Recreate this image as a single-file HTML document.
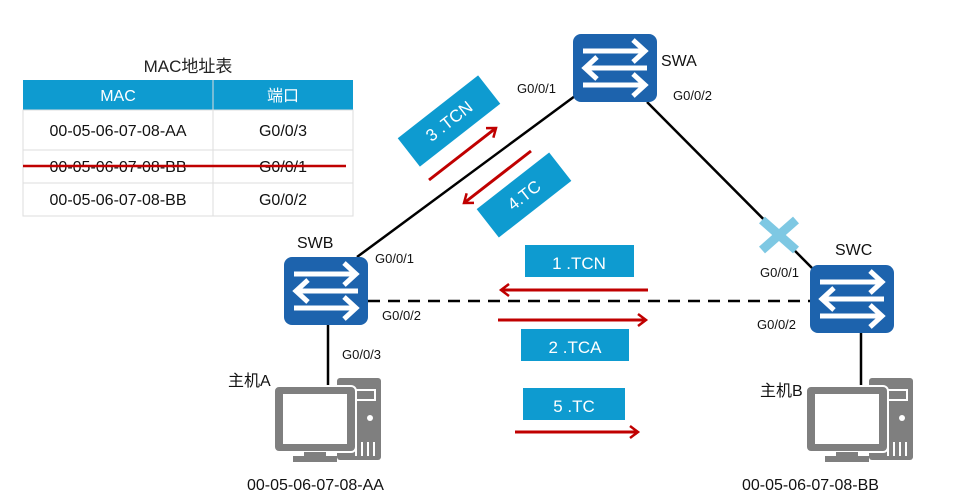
<!DOCTYPE html>
<html><head><meta charset="utf-8"><style>
html,body{margin:0;padding:0;background:#fff;}
svg{display:block;}
text{font-family:"Liberation Sans","Noto Sans CJK SC",sans-serif;}
</style></head><body>
<svg width="966" height="504" viewBox="0 0 966 504" xmlns="http://www.w3.org/2000/svg">
<defs>
<g id="sw">
<rect x="0" y="0" width="84" height="68" rx="8" fill="#1d63ad"/>
<g stroke="#fff" stroke-width="5" fill="none" stroke-linecap="butt">
<line x1="10" y1="17" x2="70" y2="17"/><polyline points="60,6 72,17 60,28"/>
<line x1="14" y1="34" x2="74" y2="34"/><polyline points="24,23 12,34 24,45"/>
<line x1="10" y1="51" x2="70" y2="51"/><polyline points="60,40 72,51 60,62"/>
</g>
</g>
<g id="pc">
<rect x="63" y="0" width="44" height="82" rx="3" fill="#7f7f7f"/>
<rect x="69" y="12" width="32" height="10" fill="none" stroke="#fff" stroke-width="2"/>
<circle cx="96" cy="40" r="3" fill="#fff"/>
<g stroke="#fff" stroke-width="2"><line x1="82" y1="64" x2="82" y2="78"/><line x1="88" y1="64" x2="88" y2="78"/><line x1="94" y1="64" x2="94" y2="78"/><line x1="100" y1="64" x2="100" y2="78"/></g>
<rect x="0" y="8" width="82" height="66" rx="5" fill="#7f7f7f" stroke="#fff" stroke-width="2"/>
<rect x="9" y="16" width="64" height="50" fill="#fff"/>
<rect x="30" y="74" width="22" height="4" fill="#7f7f7f"/>
<rect x="19" y="78" width="44" height="6" fill="#7f7f7f"/>
</g>
<marker id="ah" markerWidth="14" markerHeight="14" refX="10" refY="7" orient="auto" markerUnits="userSpaceOnUse">
<polyline points="2,1 10,7 2,13" fill="none" stroke="#c00000" stroke-width="2.5"/>
</marker>
</defs>

<!-- table -->
<text x="188" y="72" font-size="17" text-anchor="middle" fill="#222">MAC地址表</text>
<rect x="23" y="80" width="330" height="30" fill="#0e9bd0"/>
<line x1="213" y1="80" x2="213" y2="216" stroke="#ddd"/>
<rect x="23" y="110" width="330" height="106" fill="none" stroke="#ddd"/>
<line x1="23" y1="150" x2="353" y2="150" stroke="#ddd"/>
<line x1="23" y1="183" x2="353" y2="183" stroke="#ddd"/>
<text x="118" y="101" font-size="16" text-anchor="middle" fill="#fff">MAC</text>
<text x="283" y="101" font-size="16" text-anchor="middle" fill="#fff">端口</text>
<g font-size="16" fill="#111" text-anchor="middle">
<text x="118" y="136">00-05-06-07-08-AA</text><text x="283" y="136">G0/0/3</text>
<text x="118" y="172">00-05-06-07-08-BB</text><text x="283" y="172">G0/0/1</text>
<text x="118" y="205">00-05-06-07-08-BB</text><text x="283" y="205">G0/0/2</text>
</g>
<line x1="23" y1="166" x2="346" y2="166" stroke="#c00000" stroke-width="2.5"/>

<!-- links -->
<g stroke="#000" stroke-width="2.5">
<line x1="575" y1="96" x2="357" y2="257"/>
<line x1="647" y1="102" x2="812" y2="268"/>
<line x1="328" y1="325" x2="328" y2="388"/>
<line x1="861" y1="333" x2="861" y2="386"/>
<line x1="368" y1="301" x2="810" y2="301" stroke-dasharray="12,8"/>
</g>
<!-- X -->
<g stroke="#7ec8e3" stroke-width="9"><line x1="762" y1="220" x2="796" y2="250"/><line x1="796" y1="220" x2="762" y2="250"/></g>

<use href="#sw" x="573" y="34"/>
<use href="#sw" x="284" y="257"/>
<use href="#sw" x="810" y="265"/>
<use href="#pc" x="274" y="378"/>
<use href="#pc" x="806" y="378"/>

<g font-size="16" fill="#111">
<text x="661" y="66">SWA</text>
<text x="297" y="248">SWB</text>
<text x="835" y="255">SWC</text>
<text x="228" y="386">主机A</text>
<text x="760" y="396">主机B</text>
<text x="247" y="490">00-05-06-07-08-AA</text>
<text x="742" y="490">00-05-06-07-08-BB</text>
</g>
<g font-size="13" fill="#111">
<text x="517" y="93">G0/0/1</text>
<text x="673" y="100">G0/0/2</text>
<text x="375" y="263">G0/0/1</text>
<text x="382" y="320">G0/0/2</text>
<text x="342" y="359">G0/0/3</text>
<text x="760" y="277">G0/0/1</text>
<text x="757" y="329">G0/0/2</text>
</g>

<!-- labels -->
<g font-size="17" fill="#fff" text-anchor="middle">
<g transform="translate(449,121) rotate(-38)"><rect x="-51" y="-18" width="102" height="36" fill="#0e9bd0"/><text x="0" y="6">3 .TCN</text></g>
<g transform="translate(524,195) rotate(-38)"><rect x="-46" y="-18" width="92" height="36" fill="#0e9bd0"/><text x="0" y="6">4.TC</text></g>
<rect x="525" y="245" width="109" height="32" fill="#0e9bd0"/><text x="579" y="269">1 .TCN</text>
<rect x="521" y="329" width="108" height="32" fill="#0e9bd0"/><text x="575" y="353">2 .TCA</text>
<rect x="523" y="388" width="102" height="32" fill="#0e9bd0"/><text x="574" y="412">5 .TC</text>
</g>
<g stroke="#c00000" stroke-width="3" marker-end="url(#ah)">
<line x1="429" y1="180" x2="496" y2="128"/>
<line x1="531" y1="151" x2="464" y2="203"/>
<line x1="648" y1="290" x2="501" y2="290"/>
<line x1="498" y1="320" x2="646" y2="320"/>
<line x1="515" y1="432" x2="638" y2="432"/>
</g>
</svg>
</body></html>
